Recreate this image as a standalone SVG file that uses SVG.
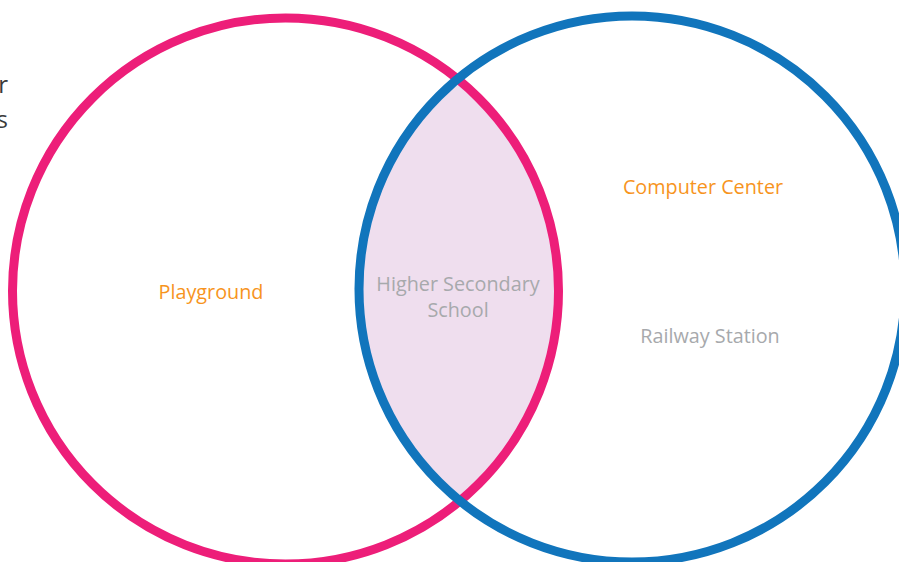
<svg xmlns="http://www.w3.org/2000/svg" width="899" height="562" viewBox="0 0 899 562">
<style>
.lbl{font-family:"Open Sans","Noto Sans","Liberation Sans",sans-serif;font-size:19.8px;text-anchor:middle}
.or{fill:#f7941d}
.gr{fill:#a7a9ac}
.edge{font-family:"Open Sans","Noto Sans","Liberation Sans",sans-serif;font-size:24px;fill:#3a3a3a;text-anchor:end}
</style>
<defs>
<clipPath id="clipPink"><circle cx="285.5" cy="291" r="273"/></clipPath>
</defs>
<rect width="899" height="562" fill="#ffffff"/>
<g id="edge-text">
<text class="edge" x="8" y="93">r</text>
<text class="edge" x="8" y="128">s</text>
</g>
<g id="overlap">
<circle cx="632" cy="289" r="273" fill="#efdeee" clip-path="url(#clipPink)"/>
</g>
<g id="pink-set">
<circle cx="285.5" cy="291" r="273" fill="none" stroke="#ed1e79" stroke-width="9"/>
<text class="lbl or" x="211" y="299">Playground</text>
</g>
<g id="blue-set">
<circle cx="632" cy="289" r="273" fill="none" stroke="#1175bc" stroke-width="9"/>
<text class="lbl or" x="703" y="194">Computer Center</text>
<text class="lbl gr" x="710" y="343">Railway Station</text>
</g>
<g id="intersection-label">
<text class="lbl gr" x="458" y="291">Higher Secondary</text>
<text class="lbl gr" x="458" y="317">School</text>
</g>
<g id="connectors"/>
</svg>
